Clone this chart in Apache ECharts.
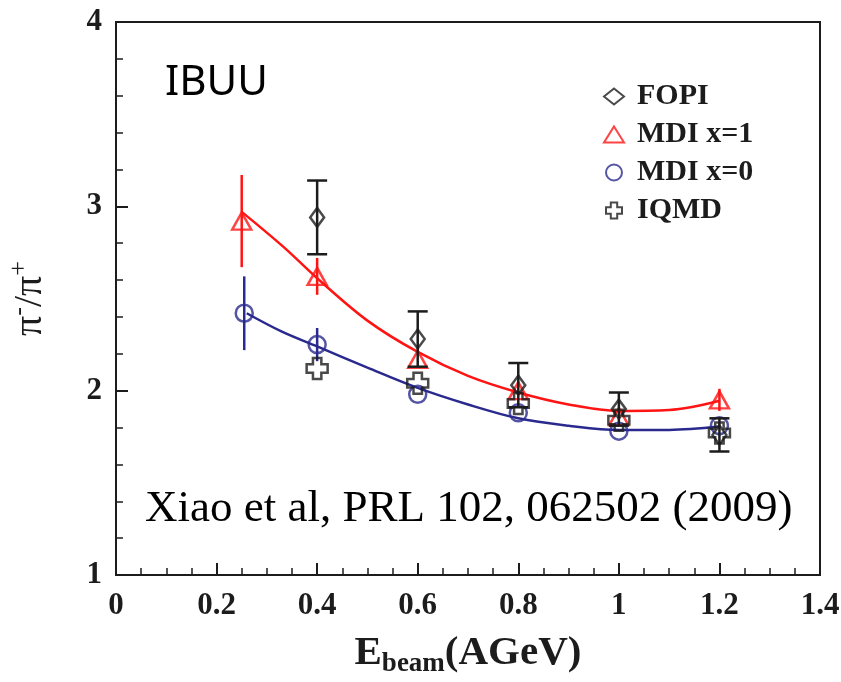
<!DOCTYPE html>
<html>
<head>
<meta charset="utf-8">
<title>pi-/pi+ ratio vs beam energy</title>
<script src="https://cdn.jsdelivr.net/npm/echarts@6/dist/echarts.min.js"></script>
<style>
  html, body { margin: 0; padding: 0; background: #ffffff; }
  #chart { width: 841px; height: 682px; }
</style>
</head>
<body>
<div id="chart"></div>
<script>
// FOPI measurement (diamonds with capped error bars)
const fopiX = [0.4, 0.6, 0.8, 1.0, 1.2];
const fopiY = [2.94, 2.28, 2.03, 1.90, 1.76];
const fopiErr = [0.20, 0.15, 0.12, 0.09, 0.09];

// IBUU, MDI x=1 (triangles)
const mdi1X = [0.25, 0.4, 0.6, 0.8, 1.0, 1.2];
const mdi1Y = [2.92, 2.62, 2.17, 2.00, 1.86, 1.95];
const mdi1Err = [0.25, 0.10, 0, 0, 0, 0.06];

// IBUU, MDI x=0 (circles)
const mdi0X = [0.255, 0.4, 0.6, 0.8, 1.0, 1.2];
const mdi0Y = [2.42, 2.25, 1.98, 1.88, 1.78, 1.81];
const mdi0Err = [0.20, 0.09, 0, 0, 0, 0];

// IQMD (crosses)
const iqmdX = [0.4, 0.6, 0.8, 1.0, 1.2];
const iqmdY = [2.12, 2.04, 1.93, 1.84, 1.77];

// Fitted curves through the transport results
const fit1X = [0.25, 0.333, 0.4, 0.5, 0.6, 0.7, 0.8, 0.9, 1.0, 1.1, 1.2];
const fit1Y = [2.97, 2.78, 2.61, 2.38, 2.21, 2.08, 1.99, 1.925, 1.89, 1.895, 1.945];
const fit0X = [0.26, 0.33, 0.4, 0.5, 0.6, 0.7, 0.8, 0.9, 1.0, 1.1, 1.2];
const fit0Y = [2.42, 2.32, 2.24, 2.125, 2.015, 1.925, 1.85, 1.81, 1.787, 1.787, 1.805];

// Axis ticks
const xTicks = [0, 0.2, 0.4, 0.6, 0.8, 1, 1.2, 1.4];
const yTicks = [1, 2, 3, 4];

const RED = '#ff1414';
const BLUE = '#2a2a8e';
const BLACK = '#1c1c1c';
const SERIF = '"Liberation Serif", "DejaVu Serif", serif';

const zip = (xs, ys) => xs.map((x, i) => [x, ys[i]]);
const zipErr = (xs, ys, es) => xs.map((x, i) => [x, ys[i] - es[i], ys[i] + es[i]]).filter((d, i) => es[i] > 0);

function errorBars(color, capHalf) {
  return function (params, api) {
    const x = api.value(0);
    const lo = api.coord([x, api.value(1)]);
    const hi = api.coord([x, api.value(2)]);
    const style = { stroke: color, lineWidth: 2.5, fill: 'none' };
    const children = [{ type: 'line', shape: { x1: lo[0], y1: lo[1], x2: hi[0], y2: hi[1] }, style }];
    if (capHalf > 0) {
      children.push({ type: 'line', shape: { x1: lo[0] - capHalf, y1: lo[1], x2: lo[0] + capHalf, y2: lo[1] }, style });
      children.push({ type: 'line', shape: { x1: hi[0] - capHalf, y1: hi[1], x2: hi[0] + capHalf, y2: hi[1] }, style });
    }
    return { type: 'group', children };
  };
}

const crossPath = 'path://M3,0 L7,0 L7,3 L10,3 L10,7 L7,7 L7,10 L3,10 L3,7 L0,7 L0,3 L3,3 Z';

const chart = echarts.init(document.getElementById('chart'), null, { renderer: 'canvas' });

chart.setOption({
  animation: false,
  backgroundColor: '#ffffff',
  grid: {
    left: 116, right: 21, top: 22, bottom: 107,
    containLabel: false, outerBoundsMode: 'none',
    show: true, borderColor: BLACK, borderWidth: 2, backgroundColor: 'transparent'
  },
  xAxis: {
    type: 'value',
    min: xTicks[0], max: xTicks[xTicks.length - 1], interval: 0.2,
    axisLine: { show: true, onZero: false, lineStyle: { color: BLACK, width: 2 } },
    axisTick: { show: true, inside: true, length: 12, lineStyle: { color: BLACK, width: 2 } },
    minorTick: { show: true, splitNumber: 4, length: 7, lineStyle: { color: BLACK, width: 1.5 } },
    splitLine: { show: false },
    axisLabel: {
      margin: 15, color: BLACK, fontFamily: SERIF, fontWeight: 'bold', fontSize: 31,
      formatter: v => xTicks.includes(Math.round(v * 10) / 10) ? String(Math.round(v * 10) / 10) : ''
    },
    name: '{e|E}{sub|beam}{e|(AGeV)}',
    nameLocation: 'middle', nameGap: 54,
    nameTextStyle: {
      rich: {
        e: { fontFamily: SERIF, fontWeight: 'bold', fontSize: 41, color: BLACK },
        sub: { fontFamily: SERIF, fontWeight: 'bold', fontSize: 27, color: BLACK, padding: [22, 0, 0, 0] }
      }
    }
  },
  yAxis: {
    type: 'value',
    min: yTicks[0], max: yTicks[yTicks.length - 1], interval: 1,
    axisLine: { show: true, onZero: false, lineStyle: { color: BLACK, width: 2 } },
    axisTick: { show: true, inside: true, length: 12, lineStyle: { color: BLACK, width: 2 } },
    minorTick: { show: true, splitNumber: 5, length: 7, lineStyle: { color: BLACK, width: 1.5 } },
    splitLine: { show: false },
    axisLabel: { margin: 14, color: BLACK, fontFamily: SERIF, fontWeight: 'bold', fontSize: 31 },
    name: '{p|π}{sup|-}{p|/π}{sup|+}',
    nameLocation: 'middle', nameGap: 62, nameRotate: 90,
    nameTextStyle: {
      rich: {
        p: { fontFamily: SERIF, fontSize: 40, color: BLACK },
        sup: { fontFamily: SERIF, fontSize: 26, color: BLACK, padding: [0, 0, 22, 0] }
      }
    }
  },
  legend: {
    orient: 'vertical', left: 598, top: 76,
    itemWidth: 20, itemHeight: 16, itemGap: 7,
    textStyle: { fontFamily: SERIF, fontWeight: 'bold', fontSize: 30, color: BLACK, lineHeight: 31, padding: [0, 0, 0, 8] },
    data: [
      { name: 'FOPI' },
      { name: 'MDI x=1' },
      { name: 'MDI x=0' },
      { name: 'IQMD' }
    ],
    selectedMode: false
  },
  graphic: [
    {
      type: 'text', left: 165, top: 62,
      style: { text: 'IBUU', font: '42px "Noto Sans", "Open Sans", sans-serif', fill: '#000000' }
    },
    {
      type: 'text', left: 145, top: 487,
      style: { text: 'Xiao et al, PRL 102, 062502 (2009)', font: '45px "Liberation Serif", serif', fill: '#000000' }
    }
  ],
  series: [
    {
      name: 'fit x=1', type: 'line', data: zip(fit1X, fit1Y), smooth: 0.35,
      showSymbol: false, lineStyle: { color: RED, width: 2.5 }, z: 1, silent: true
    },
    {
      name: 'fit x=0', type: 'line', data: zip(fit0X, fit0Y), smooth: 0.35,
      showSymbol: false, lineStyle: { color: BLUE, width: 2.5 }, z: 1, silent: true
    },
    {
      name: 'err x=1', type: 'custom', data: zipErr(mdi1X, mdi1Y, mdi1Err),
      renderItem: errorBars(RED, 0), z: 2, silent: true
    },
    {
      name: 'err x=0', type: 'custom', data: zipErr(mdi0X, mdi0Y, mdi0Err),
      renderItem: errorBars(BLUE, 0), z: 2, silent: true
    },
    {
      name: 'MDI x=1', type: 'scatter', data: zip(mdi1X, mdi1Y),
      symbol: 'triangle', symbolSize: [19, 17],
      itemStyle: { color: 'rgba(255,255,255,0)', borderColor: RED, borderWidth: 2.5 }, z: 3
    },
    {
      name: 'MDI x=0', type: 'scatter', data: zip(mdi0X, mdi0Y),
      symbol: 'circle', symbolSize: 17,
      itemStyle: { color: 'rgba(255,255,255,0)', borderColor: BLUE, borderWidth: 2.5 }, z: 3
    },
    {
      name: 'IQMD', type: 'scatter', data: zip(iqmdX, iqmdY),
      symbol: crossPath, symbolSize: 21,
      itemStyle: { color: 'rgba(255,255,255,0)', borderColor: BLACK, borderWidth: 2.5 }, z: 4
    },
    {
      name: 'err FOPI', type: 'custom', data: zipErr(fopiX, fopiY, fopiErr),
      renderItem: errorBars(BLACK, 10), z: 5, silent: true
    },
    {
      name: 'FOPI', type: 'scatter', data: zip(fopiX, fopiY),
      symbol: 'diamond', symbolSize: [14, 19],
      itemStyle: { color: 'rgba(255,255,255,0)', borderColor: BLACK, borderWidth: 2.5 }, z: 6
    }
  ]
});
</script>
</body>
</html>
